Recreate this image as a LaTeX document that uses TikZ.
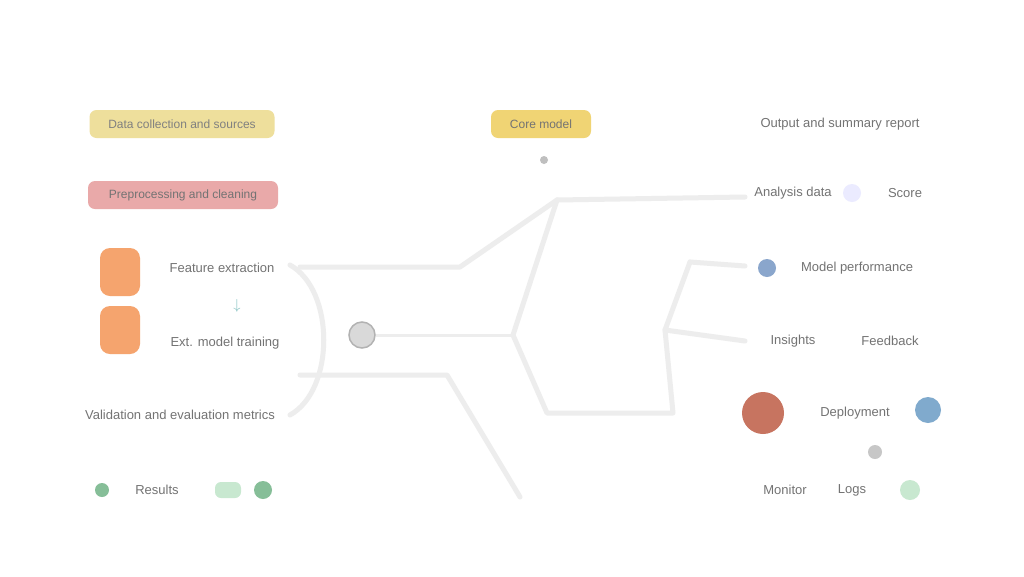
\documentclass[tikz,border=0pt]{standalone}
\usepackage{fontspec}
\setmainfont{Liberation Sans}
\definecolor{cyel}{HTML}{EEDF9C}
\definecolor{cpink}{HTML}{E9A9A9}
\definecolor{corg}{HTML}{F5A46E}
\definecolor{ccore}{HTML}{F0D474}
\definecolor{cred}{HTML}{C77460}
\definecolor{cblue}{HTML}{80AACD}
\definecolor{cblue2}{HTML}{8AA6CC}
\definecolor{cgreen}{HTML}{86BE98}
\definecolor{clgreen}{HTML}{C8E8D0}
\definecolor{cline}{HTML}{EDEDED}
\begin{document}
\begin{tikzpicture}[x=1pt,y=-1pt,
  conn/.style={draw=cline,line width=5pt,line cap=round,line join=round},
  lbl/.style={text=black!55,font=\fontsize{13}{15}\selectfont,inner sep=1pt},
  pill/.style={rounded corners=7pt,minimum height=28pt,font=\fontsize{12}{14}\selectfont,inner sep=3pt},
  dot/.style={circle,inner sep=0pt}]
\useasboundingbox[fill=white] (0,0) rectangle (1024,576);

% ---------- connectors ----------
\coordinate (hl) at (513,335);
\coordinate (htl) at (557,200);
\coordinate (hbl) at (547,413);
\coordinate (hbr) at (673,413);
\coordinate (hr) at (665,330);
\coordinate (hrt) at (690,262);
\coordinate (ua) at (300,267);
\coordinate (ub) at (460,267);
\coordinate (la) at (300,375);
\coordinate (lb) at (447,375);
\coordinate (bot) at (520,497);
\coordinate (r1) at (745,197);
\coordinate (r2) at (745,266);
\coordinate (r3) at (745,341);

\draw[conn] (290,265) .. controls (335,290) and (335,390) .. (290,415);
\draw[conn] (ua) -- (ub) -- (htl);
\draw[conn] (la) -- (lb) -- (bot);
\draw[conn] (htl) -- (hl) -- (hbl) -- (hbr) -- (hr) -- (hrt);
\draw[conn] (htl) -- (r1);
\draw[conn] (hrt) -- (r2);
\draw[conn] (hr) -- (r3);

% ---------- left column ----------
\node[pill,fill=cyel,text=black!50,minimum width=185pt] (y1) at (182,124) {Data collection and sources};
\node[pill,fill=cpink,text=black!55,minimum width=190pt] (p1) at (183,195) {Preprocessing and cleaning};
\node[rounded corners=10pt,fill=corg,minimum width=40pt,minimum height=48pt] (o1) at (120,272) {};
\node[rounded corners=10pt,fill=corg,minimum width=40pt,minimum height=48pt] (o2) at (120,330) {};
\node[lbl] (t1) at (222,268) {Feature extraction};
\node[text=teal!50,font=\fontsize{14}{14}\selectfont] (g1) at (237,306) {$\downarrow$};
\node[lbl] (t2) at (225,343) {Ext. model training};
\node[lbl] (t3) at (180,415) {Validation and evaluation metrics};
\node[dot,fill=cgreen,minimum size=14pt] (gi) at (102,490) {};
\node[lbl] (t4) at (157,490) {Results};
\node[rounded corners=6pt,fill=clgreen,minimum width=26pt,minimum height=16pt] (gp) at (228,490) {};
\node[dot,fill=cgreen,minimum size=18pt] (gc) at (263,490) {};

% ---------- centre ----------
\node[pill,fill=ccore,text=black!55,minimum width=100pt] (y2) at (541,124) {Core model};
\node[dot,fill=black!25,minimum size=8pt] (sd) at (544,160) {};
\node[dot,draw=black!30,fill=black!15,line width=1.5pt,minimum size=26pt] (cc) at (362,335) {};
\draw[draw=cline,line width=3pt] (cc) -- (hl);

% ---------- right column ----------
\node[lbl] (rt) at (840,124) {Output and summary report};
\node[lbl] (ra) at (793,193) {Analysis data};
\node[dot,fill=blue!8,minimum size=18pt] (rb) at (852,193) {};
\node[lbl] (rc) at (905,193) {Score};
\node[dot,fill=cblue2,minimum size=18pt] (rd) at (767,268) {};
\node[lbl] (re) at (857,268) {Model performance};
\node[lbl] (rf) at (793,341) {Insights};
\node[lbl] (rg) at (890,341) {Feedback};
\node[dot,fill=cred,minimum size=42pt] (rh) at (763,413) {};
\node[lbl] (ri) at (855,413) {Deployment};
\node[dot,fill=cblue,minimum size=26pt] (rj) at (928,410) {};
\node[dot,fill=black!22,minimum size=14pt] (rk) at (875,452) {};
\node[lbl] (rl) at (785,490) {Monitor};
\node[lbl] (rm) at (852,490) {Logs};
\node[dot,fill=clgreen,minimum size=20pt] (rn) at (910,490) {};
\end{tikzpicture}
\end{document}
